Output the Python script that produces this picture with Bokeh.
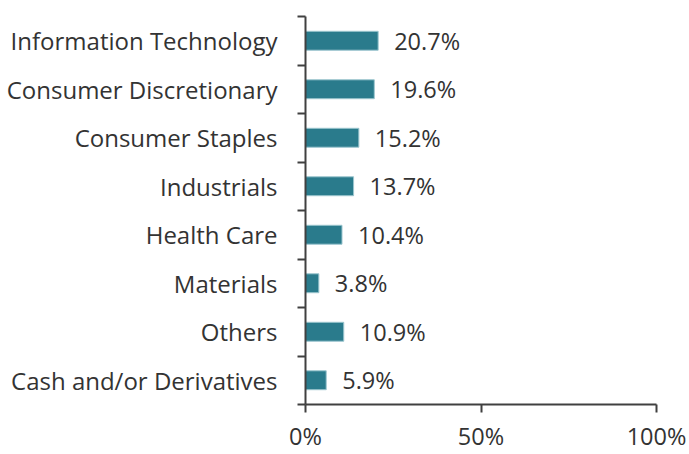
from bokeh.plotting import figure
from bokeh.models import Range1d, FixedTicker, ColumnDataSource
from bokeh.core.properties import value
from bokeh.embed import file_html
from bokeh.resources import INLINE

categories = ["Information Technology", "Consumer Discretionary", "Consumer Staples",
              "Industrials", "Health Care", "Materials", "Others", "Cash and/or Derivatives"]
values = [20.7, 19.6, 15.2, 13.7, 10.4, 3.8, 10.9, 5.9]
x_ticks = [0, 50, 100]
x_tick_labels = ["0%", "50%", "100%"]

n = len(categories)
ypos = [n - 0.5 - i for i in range(n)]
labels = [f"{v:.1f}%" for v in values]

src = ColumnDataSource(dict(y=ypos, v=values, lab=labels))

FONT = "Open Sans"
TXT = "#333333"

p = figure(width=689, height=454, output_backend="svg", toolbar_location=None,
           x_range=Range1d(0, 100), y_range=Range1d(0, n),
           min_border_left=305, min_border_right=33, min_border_top=16, min_border_bottom=44)
p.outline_line_color = None
p.xgrid.grid_line_color = None
p.ygrid.grid_line_color = None
p.background_fill_color = "white"
p.border_fill_color = "white"

p.hbar(y="y", right="v", left=0, height=0.39, source=src,
       fill_color="#2a7b8c", line_color="#9cc6cf", line_width=1)
p.text(x="v", y="y", text="lab", source=src, x_offset=16,
       text_baseline="middle", text_align="left",
       text_font=value(FONT), text_font_size="23.5px", text_color=TXT)

# y axis
ya = p.yaxis[0]
ya.ticker = FixedTicker(ticks=ypos, minor_ticks=list(range(n + 1)))
ya.major_label_overrides = {y: c for y, c in zip(ypos, categories)}
ya.major_tick_line_color = None
ya.major_tick_out = 0
ya.major_tick_in = 0
ya.minor_tick_line_color = "#404040"
ya.minor_tick_line_width = 2
ya.minor_tick_out = 8
ya.minor_tick_in = 0
ya.axis_line_color = "#404040"
ya.axis_line_width = 2
ya.major_label_standoff = 20
ya.major_label_text_font = FONT
ya.major_label_text_font_size = "24px"
ya.major_label_text_color = TXT

# x axis
xa = p.xaxis[0]
xa.ticker = FixedTicker(ticks=x_ticks, minor_ticks=[])
xa.major_label_overrides = {t: l for t, l in zip(x_ticks, x_tick_labels)}
xa.major_tick_line_color = "#404040"
xa.major_tick_line_width = 2
xa.major_tick_out = 8
xa.major_tick_in = 0
xa.axis_line_color = "#404040"
xa.axis_line_width = 2
xa.major_label_standoff = 7
xa.major_label_text_font = FONT
xa.major_label_text_font_size = "23.5px"
xa.major_label_text_color = TXT

open("out.html", "w").write(file_html(p, INLINE))
